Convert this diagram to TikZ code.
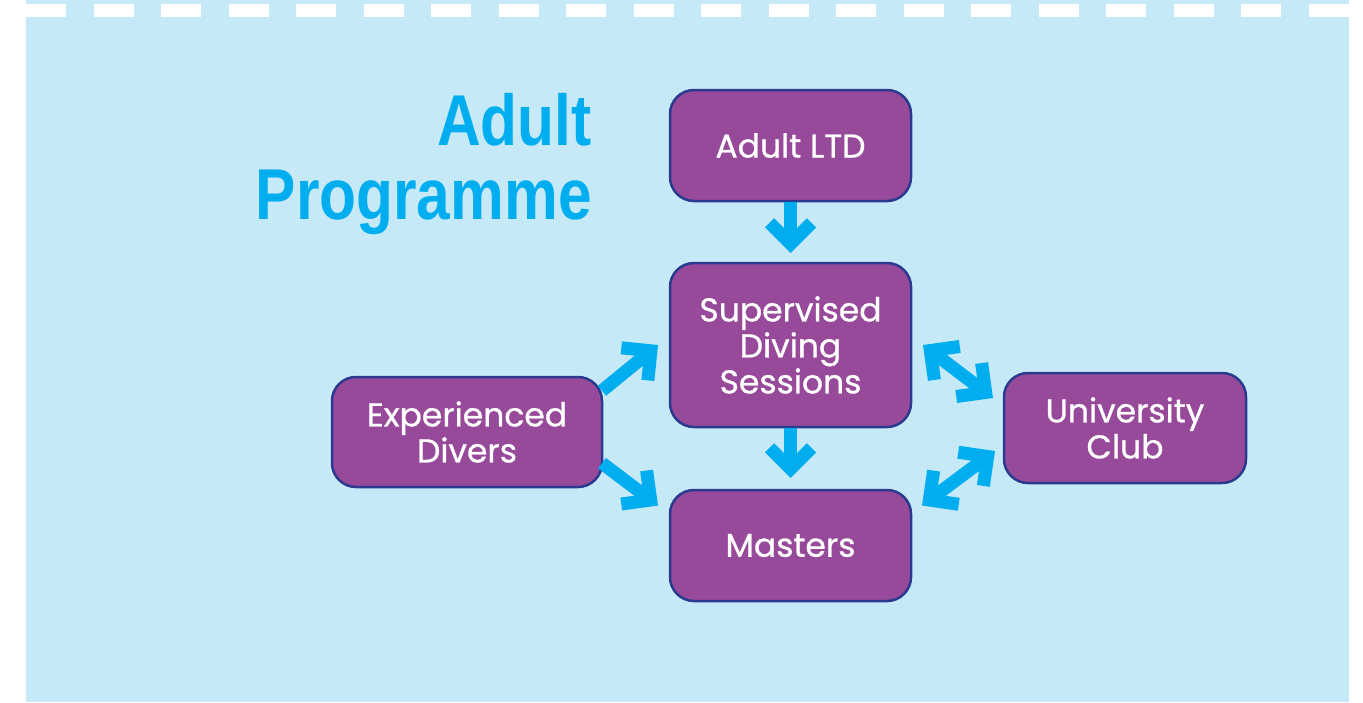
\documentclass[tikz,border=0pt]{standalone}
\usepackage{fontspec}
\usetikzlibrary{positioning,arrows.meta,calc}
\newfontfamily\boxfont{Poppins}[FakeBold=0.8]
\newfontfamily\titlefont{Liberation Sans}[FakeStretch=0.84]
\definecolor{skyback}{HTML}{C6E9F8}
\definecolor{flowblue}{HTML}{00AEEF}
\definecolor{boxpurple}{HTML}{974A9A}
\definecolor{boxedge}{HTML}{2B3A8F}
\tikzstyle{box} = [rectangle,rounded corners=24pt,draw=boxedge,line width=2.5pt,outer sep=0pt,fill=boxpurple,text=white,align=center,inner sep=0pt,minimum width=241pt,minimum height=111pt,font={\boxfont\fontsize{33}{36}\selectfont}]

\begin{document}
\begin{tikzpicture}
		[
		x=1pt,y=-1pt,
		flow/.style={
		draw=flowblue,
		line width=13pt,
		-{Straight Barb[length=21pt,width=42pt,sharp]}},
		flowboth/.style={
		draw=flowblue,
		line width=13pt,
		{Straight Barb[length=21pt,width=42pt,sharp]}-{Straight Barb[length=21pt,width=42pt,sharp]}},
		titletext/.style={
		text=flowblue,
		inner sep=0pt,
		font={\titlefont\bfseries\fontsize{72}{74}\selectfont}}
		]
		% page and panel
		\useasboundingbox[fill=white] (0,0) rectangle (1363,702);
		\fill[skyback] (26,0) rectangle (1349,702);
		\draw[white,line width=13pt,dash pattern=on 40pt off 27.5pt] (26,10.5) -- (1349,10.5);
		% heading
		\node[titletext,anchor=base east] (ttlone) at (592,145) {Adult};
		\node[titletext,anchor=base east] (ttltwo) at (592,219) {Programme};
		% boxes
		\node[box] (ltd) at (790.5,145.5) {Adult LTD};
		\node[box,minimum height=164pt,below=62pt of ltd] (sds) {Supervised\\Diving\\Sessions};
		\node[box,below=63pt of sds] (masters) {Masters};
		\node[box,minimum width=270pt,minimum height=110pt] (exp) at (467,432) {Experienced\\Divers};
		\node[box,minimum width=242pt,minimum height=110pt] (uni) at (1125,428) {University\\Club};
		% arrows
		\draw[flow,shorten <=1pt,shorten >=10pt] (ltd.south) -- (sds.north);
		\draw[flow,shorten <=1pt,shorten >=12pt] (sds.south) -- (masters.north);
		\draw[flow] (exp.17) -- ($(sds.west)+(-12,0)$);
		\draw[flow] (exp.-13) -- ($(masters.west)+(-12,-40)$);
		\draw[flowboth] ($(sds.east)+(12,0)$) -- ($(uni.west)+(-11,-30)$);
		\draw[flowboth] ($(masters.east)+(11,-40)$) -- ($(uni.west)+(-9,23)$);
		\end{tikzpicture}
\end{document}
